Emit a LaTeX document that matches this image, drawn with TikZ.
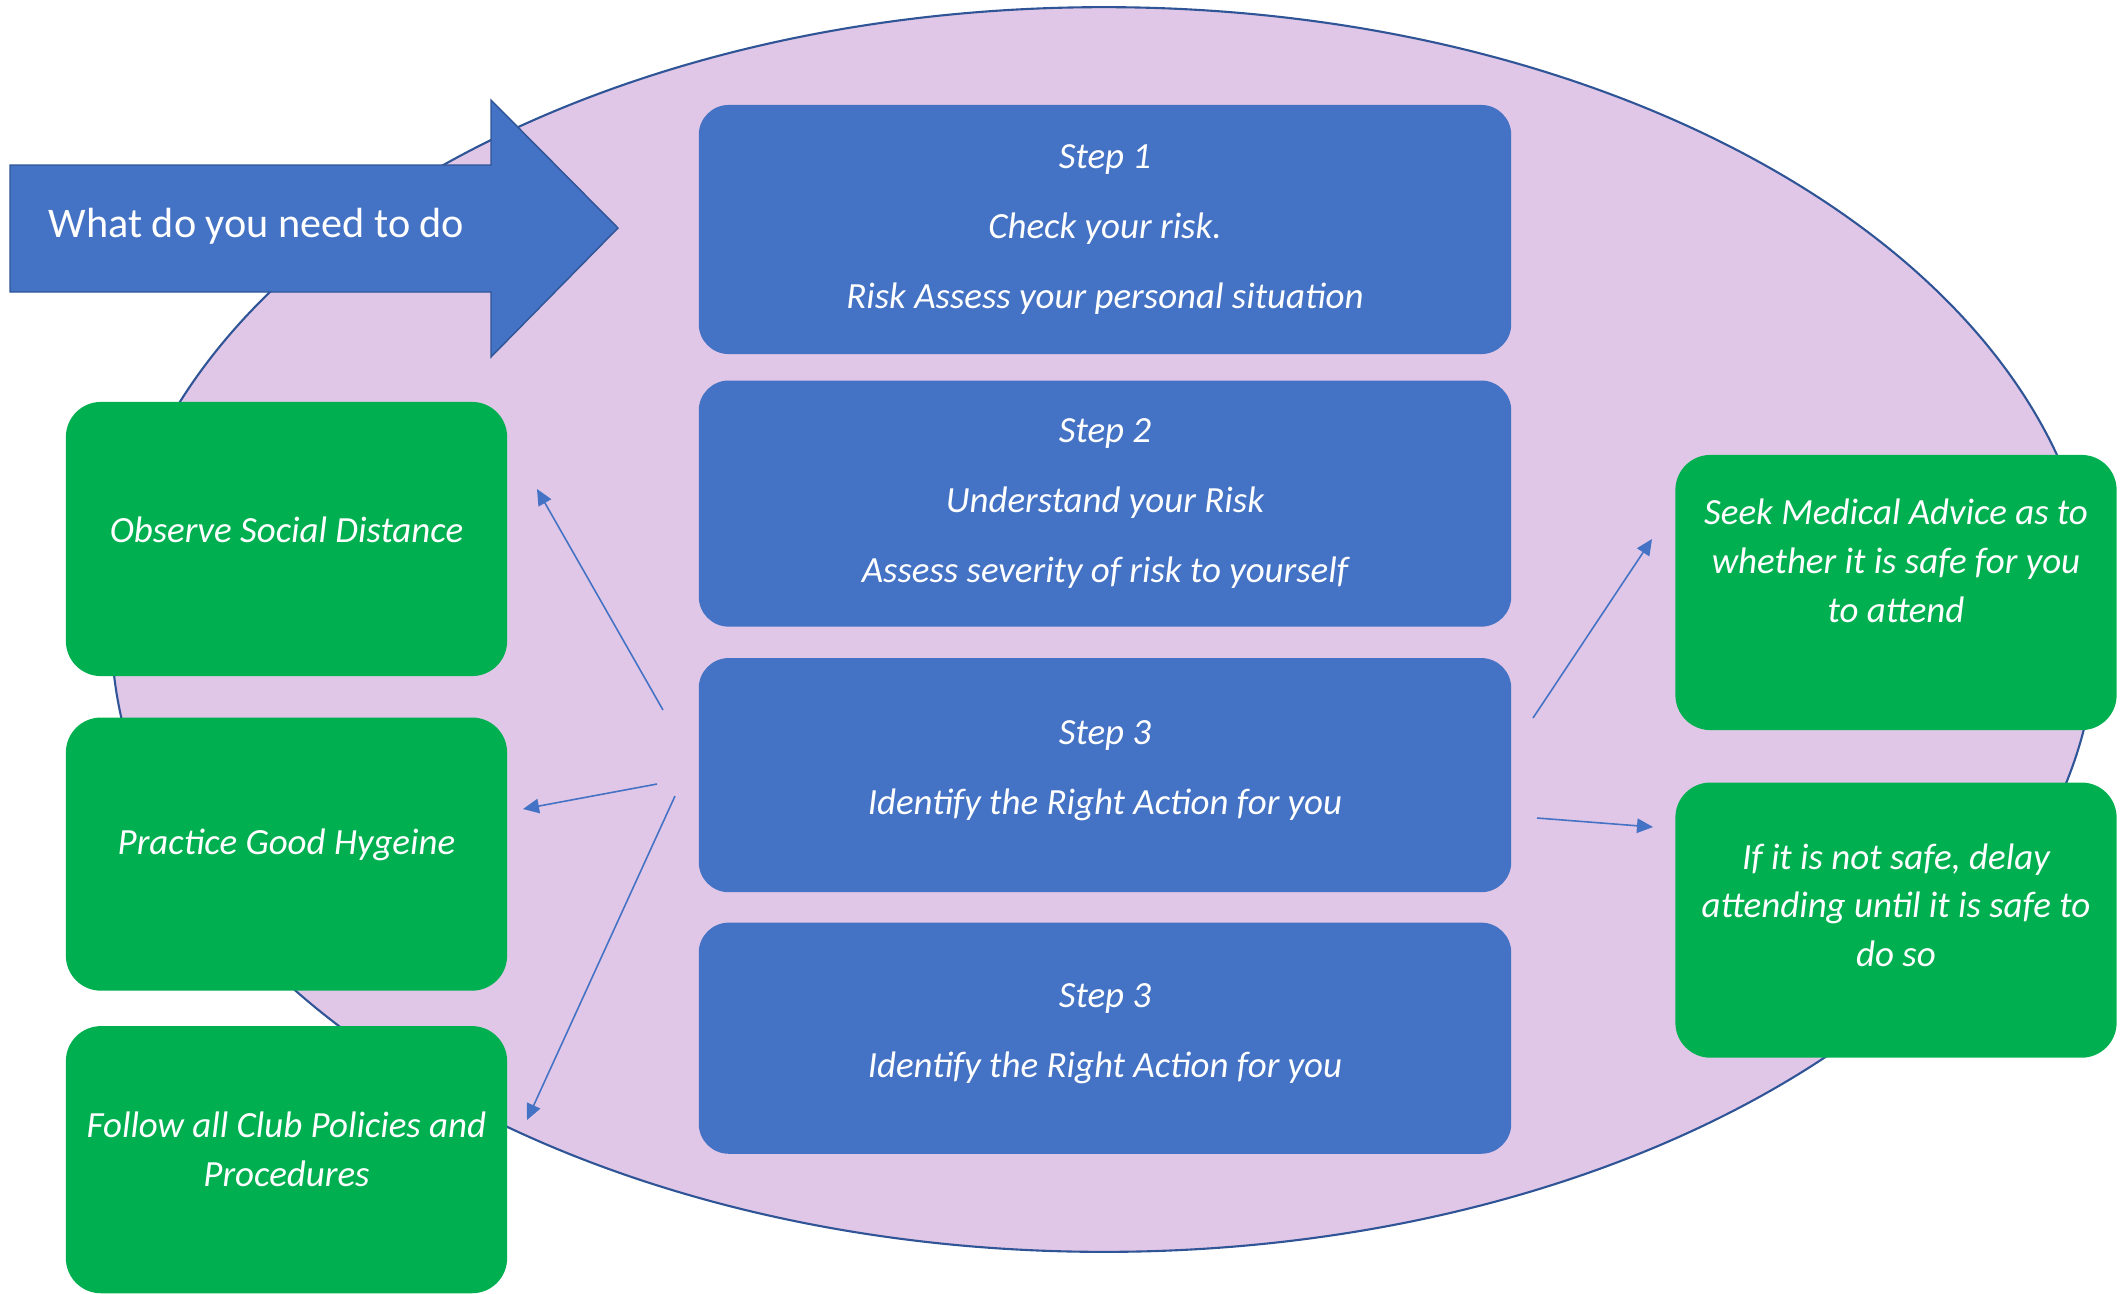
\documentclass[tikz,border=0pt]{standalone}
\usepackage{fontspec}
\setmainfont{Carlito}
\usetikzlibrary{arrows.meta,positioning}
\definecolor{lilac}{RGB}{224,199,231}
\definecolor{navy}{RGB}{47,85,151}
\definecolor{stepblue}{RGB}{68,114,196}
\definecolor{actgreen}{RGB}{0,176,80}
\tikzset{
  >={Triangle[length=1.6mm,width=1.45mm]},
  stepbox/.style={
    fill=stepblue, rounded corners=3mm, align=center, text=white,
    font=\fontsize{10.5pt}{19.9pt}\selectfont\itshape,
    minimum width=81.2mm, inner sep=0pt
  },
  action/.style={
    fill=actgreen, rounded corners=3.5mm, align=center, text=white,
    font=\fontsize{10.5pt}{13.9pt}\selectfont\itshape,
    minimum width=44.1mm, inner sep=0pt
  },
  link/.style={->, draw=stepblue, line width=0.45pt},
}
\begin{document}
\begin{tikzpicture}[x=0.01cm, y=-0.01cm]
  \useasboundingbox (0,0) rectangle (2123,1293);
  \filldraw[fill=lilac, draw=navy, line width=0.6pt] (1104,629.5) ellipse [x radius=9.92cm, y radius=6.22cm];
  % big arrow
  \filldraw[fill=stepblue, draw=navy, line width=0.4pt] (10,165) -- (491,165) -- (491,100) -- (618,228) -- (491,357) -- (491,292) -- (10,292) -- cycle;
  \node[anchor=base west, inner sep=0pt, text=white, font=\fontsize{12pt}{14pt}\selectfont] (what) at (48,237) {What do you need to do};
  % steps
  \node[stepbox, minimum height=24.9mm] (step1) at (1105,229.5) {Step 1\\Check your risk.\\Risk Assess your personal situation};
  \node[stepbox, minimum height=24.6mm, below=2.5mm of step1] (step2) {Step 2\\Understand your Risk\\Assess severity of risk to yourself};
  \node[stepbox, minimum height=23.4mm, below=3mm of step2, text depth=4.5pt] (step3) {Step 3\\Identify the Right Action for you};
  \node[stepbox, minimum height=23.1mm, below=2.9mm of step3, text depth=4.5pt] (step4) {Step 3\\Identify the Right Action for you};
  % actions
  \node[action, minimum height=27.4mm, text depth=5.4pt] (distance) at (286.5,539) {Observe Social Distance};
  \node[action, minimum height=27.3mm, below=4mm of distance, text depth=6.9pt] (hygiene) {Practice Good Hygeine};
  \node[action, minimum height=26.7mm, below=3.4mm of hygiene, text depth=6.2pt] (policies) {Follow all Club Policies and\\Procedures};
  \node[action, minimum height=27.5mm] (advice) at (1896,592.5) {Seek Medical Advice as to\\whether it is safe for you\\to attend\\ \strut};
  \node[action, minimum height=27.5mm, below=5.1mm of advice, text depth=8.5pt] (delay) {If it is not safe, delay\\attending until it is safe to\\do so};
  % links
  \coordinate (s1) at (663,710);  \coordinate (e1) at (537,489);
  \coordinate (s2) at (657,784);  \coordinate (e2) at (523,809);
  \coordinate (s3) at (675,796);  \coordinate (e3) at (527,1120);
  \coordinate (s4) at (1533,718); \coordinate (e4) at (1652,539);
  \coordinate (s5) at (1537,818); \coordinate (e5) at (1653,827);
  \draw[link] (s1) -- (e1);
  \draw[link] (s2) -- (e2);
  \draw[link] (s3) -- (e3);
  \draw[link] (s4) -- (e4);
  \draw[link] (s5) -- (e5);
\end{tikzpicture}
\end{document}
